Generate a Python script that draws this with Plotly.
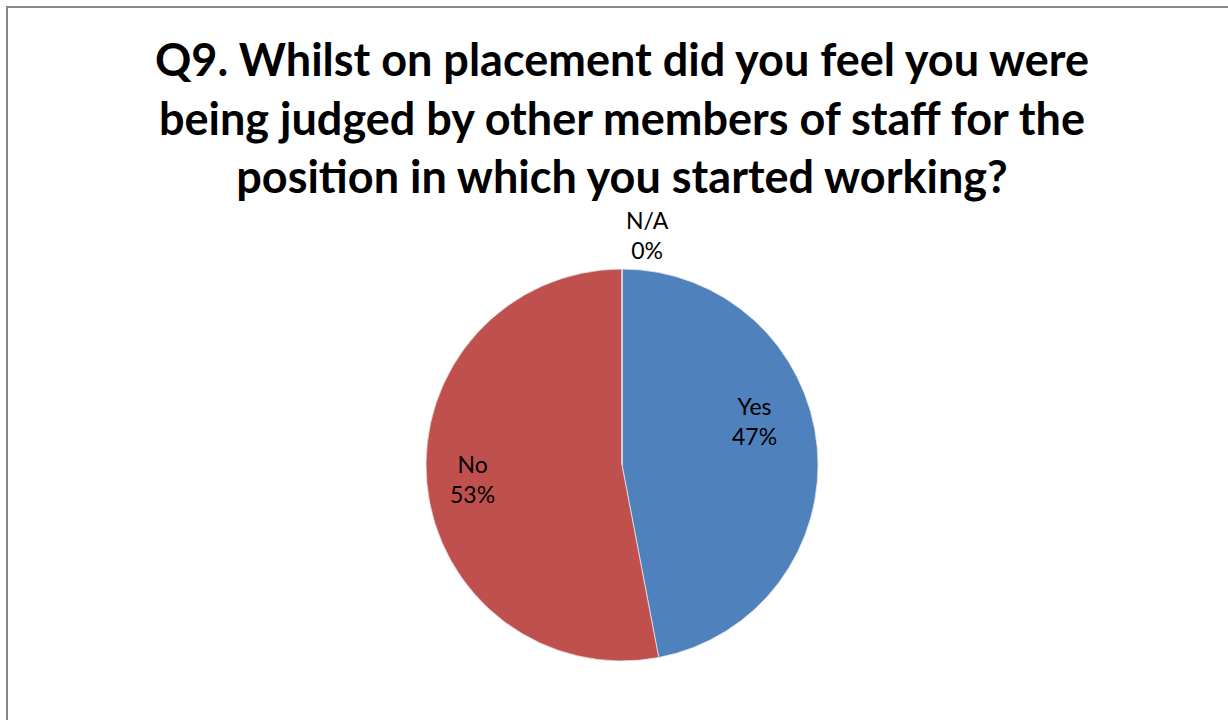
import plotly.graph_objects as go

# Survey answers for Q9 (share of respondents, %)
categories = ["Yes", "No", "N/A"]
shares = [47, 53, 0]
slice_colors = ["#4F81BD", "#C0504D", "#8064A2"]

title_text = ("Q9. Whilst on placement did you feel you were<br>"
              "being judged by other members of staff for the<br>"
              "position in which you started working?")

W, H = 1228, 720
cx, cy, r = 622, 465, 196  # pie centre and radius in pixels
FONT = "Lato, Open Sans, sans-serif"

# Data-label anchor points (pixels) for each category
label_pos = {"Yes": (754, 421), "No": (472, 479), "N/A": (647, 235)}

fig = go.Figure()
fig.add_trace(go.Pie(
    labels=categories,
    values=shares,
    sort=False,
    direction="clockwise",
    rotation=0,
    marker=dict(colors=slice_colors, line=dict(color="#E6E6E6", width=0.8)),
    textinfo="none",
    showlegend=False,
    hoverinfo="skip",
    domain=dict(x=[(cx - r) / W, (cx + r) / W], y=[1 - (cy + r) / H, 1 - (cy - r) / H]),
))

# Category / percentage labels
for cat, val in zip(categories, shares):
    px, py = label_pos[cat]
    fig.add_annotation(
        x=px / W, y=1 - py / H, xref="paper", yref="paper",
        xanchor="center", yanchor="middle",
        text=f"{cat}<br>{val}%",
        showarrow=False,
        font=dict(family=FONT, size=23, color="#000000"),
        align="center",
    )

# Chart title
fig.add_annotation(
    x=cx / W, y=1 - 118 / H, xref="paper", yref="paper",
    xanchor="center", yanchor="middle",
    text=f"<b>{title_text}</b>",
    showarrow=False,
    font=dict(family=FONT, size=45, color="#000000"),
    align="center",
)

# Chart-area frame
fig.add_shape(
    type="rect", xref="paper", yref="paper",
    x0=7 / W, y0=-0.05, x1=1.05, y1=1 - 7 / H,
    line=dict(color="#878787", width=2), fillcolor="rgba(0,0,0,0)",
)

fig.update_layout(
    width=W, height=H,
    margin=dict(l=0, r=0, t=0, b=0),
    paper_bgcolor="#FFFFFF",
    plot_bgcolor="#FFFFFF",
)

fig.write_html("out.html")
